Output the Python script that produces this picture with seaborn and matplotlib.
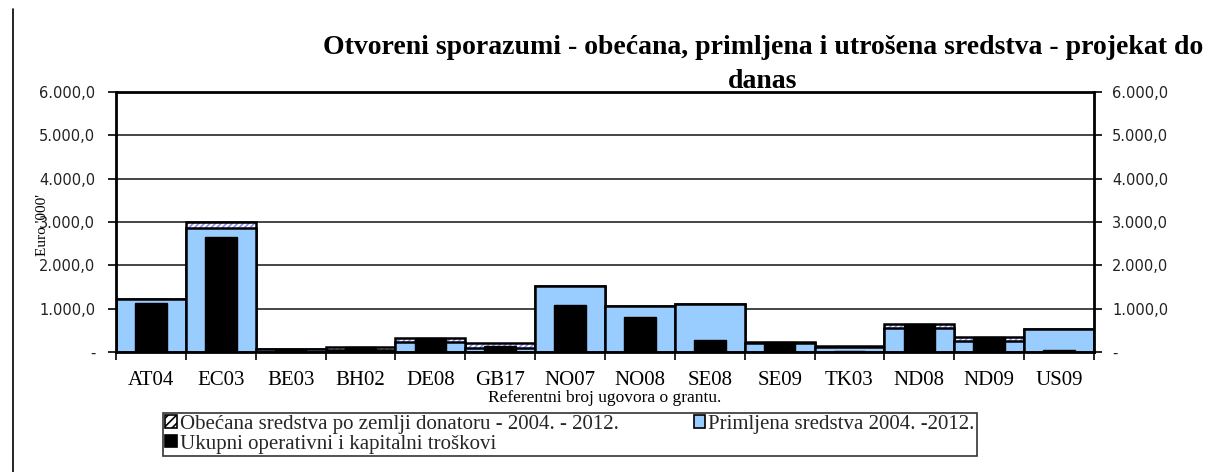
import matplotlib
matplotlib.use("Agg")
import matplotlib.pyplot as plt
import seaborn as sns
import pandas as pd
from matplotlib.patches import Patch
from matplotlib.ticker import FixedLocator, NullFormatter

categories = ["AT04", "EC03", "BE03", "BH02", "DE08", "GB17", "NO07",
              "NO08", "SE08", "SE09", "TK03", "ND08", "ND09", "US09"]
promised = [1230, 3000, 80, 125, 330, 205, 1530, 1070, 1110, 240, 150, 645, 340, 535]
received = [1230, 2860, 70, 40, 220, 85, 1530, 1070, 1110, 200, 110, 565, 265, 535]
costs = [1130, 2650, 60, 120, 325, 150, 1090, 815, 275, 235, 20, 645, 340, 40]

y_ticks = [0, 1000, 2000, 3000, 4000, 5000, 6000]
y_tick_labels = ["-", "1.000,0", "2.000,0", "3.000,0", "4.000,0", "5.000,0", "6.000,0"]

title = "Otvoreni sporazumi - obećana, primljena i utrošena sredstva - projekat do\ndanas"
x_label = "Referentni broj ugovora o grantu."
y_label = "Euro '000'"
legend_labels = ["Obećana sredstva po zemlji donatoru - 2004. - 2012.",
                 "Primljena sredstva 2004. -2012.",
                 "Ukupni operativni i kapitalni troškovi"]

df = pd.DataFrame({"cat": categories, "promised": promised,
                   "received": received, "costs": costs})

sns.set_theme(style="white")
plt.rcParams["font.family"] = ["DejaVu Sans"]
plt.rcParams["hatch.linewidth"] = 1.2

SERIF = "Liberation Serif"
HATCH_C = "#8c8cff"
BLUE = "#99ccff"

fig = plt.figure(figsize=(12.22, 4.72), dpi=100)
ax = fig.add_axes([116 / 1222, 1 - 352 / 472, (1094 - 116) / 1222, (352 - 92) / 472])

# promised: hatched layer
sns.barplot(data=df, x="cat", y="promised", order=categories, width=1.0,
            color="white", saturation=1, errorbar=None, ax=ax)
n0 = len(ax.patches)
for p in ax.patches[:n0]:
    p.set_facecolor("white")
    p.set_edgecolor(HATCH_C)
    p.set_hatch("//////")
    p.set_linewidth(0)
# promised: outline layer
sns.barplot(data=df, x="cat", y="promised", order=categories, width=1.0,
            color="white", saturation=1, errorbar=None, ax=ax)
n1 = len(ax.patches)
for p in ax.patches[n0:n1]:
    p.set_facecolor("none")
    p.set_edgecolor("black")
    p.set_linewidth(1.8)
# received
sns.barplot(data=df, x="cat", y="received", order=categories, width=1.0,
            color=BLUE, saturation=1, errorbar=None, ax=ax,
            edgecolor="black", linewidth=1.8)
# costs
sns.barplot(data=df, x="cat", y="costs", order=categories, width=0.45,
            color="black", saturation=1, errorbar=None, ax=ax,
            edgecolor="black", linewidth=1.0)

ax.set_xlim(-0.5, len(categories) - 0.5)
ax.set_ylim(0, 6000)
ax.set_axisbelow(True)
ax.yaxis.grid(True, color="#444444", linewidth=1.4)
ax.xaxis.grid(False)
ax.set_yticks(y_ticks)
ax.set_yticklabels(y_tick_labels, fontsize=10.5, color="#222222")
ax.tick_params(axis="y", direction="out", length=6, width=1.2, color="black", pad=9, left=True)
ax.set_xticks(range(len(categories)))
ax.set_xticklabels(categories, fontsize=15, family=SERIF, color="black")
ax.tick_params(axis="x", which="major", length=0, pad=14)
ax.xaxis.set_minor_locator(FixedLocator([i - 0.5 for i in range(len(categories) + 1)]))
ax.xaxis.set_minor_formatter(NullFormatter())
ax.tick_params(axis="x", which="minor", direction="out", length=6, width=1.2,
               color="black", bottom=True)
ax.set_xlabel(x_label, family=SERIF, fontsize=12.5, labelpad=0, color="black")
ax.set_ylabel("")
for s in ax.spines.values():
    s.set_visible(True)
    s.set_color("black")
    s.set_linewidth(2)

ax2 = ax.twinx()
ax2.set_ylim(0, 6000)
ax2.set_yticks(y_ticks)
ax2.set_yticklabels(y_tick_labels, fontsize=10.5, color="#222222")
ax2.tick_params(axis="y", direction="out", length=6, width=1.2, color="black", pad=7, right=True)
ax2.grid(False)
for s in ax2.spines.values():
    s.set_visible(False)

fig.text(42 / 1222, 1 - 225 / 472, y_label, rotation=90, ha="center", va="center",
         family=SERIF, fontsize=11, color="black")

fig.text(763 / 1222, 1 - 35 / 472, title, ha="center", va="top", family=SERIF,
         fontsize=20, fontweight="bold", linespacing=1.45, color="black")

# frame line at left
fig.add_artist(plt.Line2D([12.5 / 1222, 12.5 / 1222], [0, 1 - 9 / 472],
                          color="black", linewidth=1.2))

handles = [Patch(facecolor="white", edgecolor="black", hatch="////", linewidth=1.2),
           Patch(facecolor="black", edgecolor="black", linewidth=1.2),
           Patch(facecolor=BLUE, edgecolor="black", linewidth=1.2)]
labels = [legend_labels[0], legend_labels[2], legend_labels[1]]
leg = fig.legend(handles, labels, ncol=2, loc="upper left",
                 bbox_to_anchor=(163 / 1222, 1 - 413 / 472),
                 frameon=True, fancybox=False, edgecolor="black",
                 prop={"family": SERIF, "size": 15}, handlelength=0.55, handleheight=0.55,
                 handletextpad=0.15, borderpad=0.1, labelspacing=0.02, columnspacing=3.6,
                 borderaxespad=0)
leg.get_frame().set_linewidth(1.2)

fig.savefig("out.png", dpi=100)
